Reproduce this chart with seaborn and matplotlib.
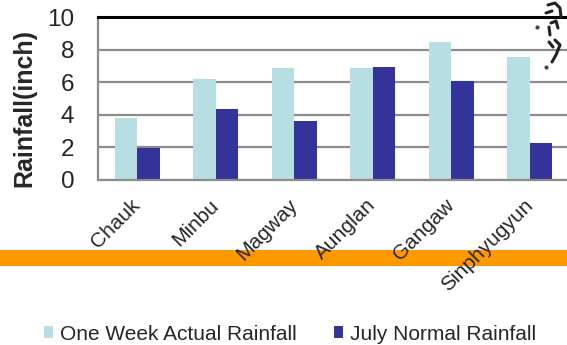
import matplotlib
matplotlib.use("Agg")
import matplotlib.pyplot as plt
from matplotlib.patches import Rectangle, Patch
from matplotlib.lines import Line2D
from matplotlib.ticker import FixedLocator
import numpy as np
import pandas as pd
import seaborn as sns

# Weekly rainfall compared with the July normal, by station
stations = ["Chauk", "Minbu", "Magway", "Aunglan", "Gangaw", "Sinphyugyun"]
actual_rain = [3.8, 6.2, 6.9, 6.85, 8.45, 7.55]
normal_rain = [1.95, 4.35, 3.6, 6.95, 6.1, 2.3]
series_names = ["One Week Actual Rainfall", "July Normal Rainfall"]
y_ticks = [0, 2, 4, 6, 8, 10]

light_blue = "#B7DFE3"
navy = "#333399"
grid_grey = "#8C8C8C"

sns.set_style("white")
plt.rcParams["font.family"] = ["Liberation Sans", "DejaVu Sans"]

df = pd.DataFrame({
    "Station": stations * 2,
    "Rainfall": actual_rain + normal_rain,
    "Series": [series_names[0]] * len(stations) + [series_names[1]] * len(stations),
})

W, H = 567, 345
fig = plt.figure(figsize=(W / 100, H / 100), dpi=100)
ax = fig.add_axes([98 / W, 1 - 180 / H, (569 - 98) / W, (180 - 17) / H])

sns.barplot(data=df, x="Station", y="Rainfall", hue="Series", order=stations,
            hue_order=series_names, palette=[light_blue, navy], saturation=1,
            width=0.575, edgecolor="none", ax=ax)

ax.set_xlim(-0.5, len(stations) - 0.5)
ax.set_ylim(0, 10)
ax.set_yticks(y_ticks)
ax.yaxis.grid(True, color=grid_grey, lw=1.6)
ax.set_axisbelow(True)

ax.spines["right"].set_visible(False)
ax.spines["top"].set_color("black")
ax.spines["top"].set_linewidth(2.2)
for side in ["left", "bottom"]:
    ax.spines[side].set_color(grid_grey)
    ax.spines[side].set_linewidth(1.6)

ax.set_xlabel("")
ax.set_ylabel("Rainfall(inch)", fontsize=18, fontweight="bold")
ax.yaxis.set_label_coords(-0.130, 0.442)

ax.tick_params(axis="y", direction="out", length=6, width=1.4, color=grid_grey,
               labelsize=17.5, pad=11)
ax.tick_params(axis="x", which="major", length=0, labelsize=15, pad=16)
ax.xaxis.set_minor_locator(FixedLocator(np.arange(-0.5, len(stations), 1.0)))
ax.tick_params(axis="x", which="minor", direction="out", length=4.5, width=1.4,
               color=grid_grey)

for lab in ax.get_xticklabels():
    lab.set_rotation(45)
    lab.set_ha("right")
    lab.set_va("center")
    lab.set_rotation_mode("anchor")

# orange band across the figure, behind the station labels
fig.patches.append(Rectangle((0, 1 - 266 / H), 1, 16 / H, transform=fig.transFigure,
                             facecolor="#FF9900", edgecolor="none", zorder=-1))

# small ink scribble in the top-right corner
scribble = [
    [(548, 5), (555, 3), (560, 8), (561, 17)],
    [(552, 11), (546, 13)],
    [(551, 23), (556, 21), (558, 28)],
    [(549, 27), (550, 35)],
    [(555, 40), (560, 45), (556, 55), (552, 62)],
    [(549, 42), (553, 47)],
]
for stroke in scribble:
    xs = [p[0] / W for p in stroke]
    ys = [1 - p[1] / H for p in stroke]
    fig.add_artist(Line2D(xs, ys, transform=fig.transFigure, color="#222222",
                          lw=2.2, solid_capstyle="round"))
for px, py in [(537, 27), (546, 67)]:
    fig.add_artist(Line2D([px / W], [1 - py / H], transform=fig.transFigure,
                          marker="o", markersize=2, color="#444444", lw=0))

ax.get_legend().remove()
handles = [Patch(facecolor=light_blue, edgecolor="none"),
           Patch(facecolor=navy, edgecolor="none")]
fig.legend(handles, series_names, loc="center", bbox_to_anchor=(290 / W, 1 - 334 / H),
           ncol=2, frameon=False, fontsize=15, handlelength=0.45, handleheight=0.45,
           handletextpad=0.35, columnspacing=1.75, borderpad=0, borderaxespad=0)

fig.savefig("out.png", dpi=100)
